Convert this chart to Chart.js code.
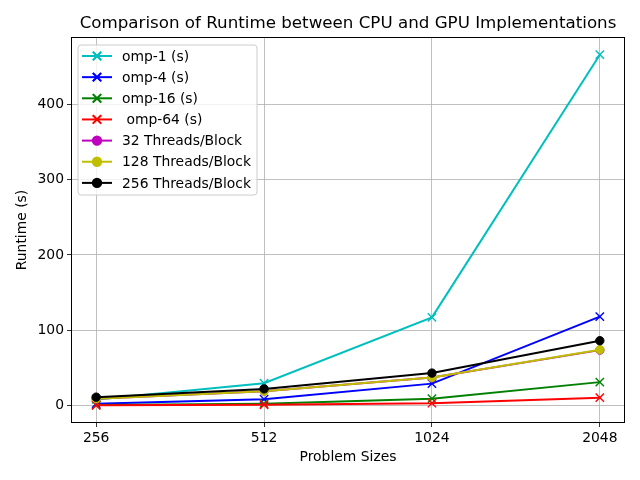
<!DOCTYPE html>
<html>
<head>
<meta charset="utf-8">
<script src="https://cdn.jsdelivr.net/npm/chart.js@4"></script>
<style>
  html, body { margin: 0; padding: 0; background: #fff; }
  #wrap { width: 640px; height: 480px; }
</style>
</head>
<body>
<div id="wrap"><canvas id="runtimeChart" width="640" height="480"></canvas></div>
<script>
// data
const problemSizes = ['256', '512', '1024', '2048'];
const omp1 = [8, 29.5, 117, 466];
const omp4 = [2.4, 8.2, 29, 118];
const omp16 = [0.6, 2.4, 9, 31];
const omp64 = [0.3, 1, 3, 10.4];
const threads32 = [9, 19, 37, 73.5];
const threads128 = [9, 19, 37, 74];
const threads256 = [11, 22, 43, 86];
const yTicks = [0, 100, 200, 300, 400];

const seriesNames = ['omp-1 (s)', 'omp-4 (s)', 'omp-16 (s)', ' omp-64 (s)',
  '32 Threads/Block', '128 Threads/Block', '256 Threads/Block'];
const seriesValues = [omp1, omp4, omp16, omp64, threads32, threads128, threads256];
const seriesColors = ['#00bfbf', '#0000ff', '#008000', '#ff0000', '#bf00bf', '#bfbf00', '#000000'];
const seriesMarkers = ['x', 'x', 'x', 'x', 'o', 'o', 'o'];

const FONT = "'DejaVu Sans', sans-serif";

const datasets = seriesNames.map((name, i) => ({
  label: name,
  data: seriesValues[i].map((v, j) => ({ x: j, y: v })),
  borderColor: seriesColors[i],
  backgroundColor: seriesColors[i],
  borderWidth: 2,
  pointStyle: seriesMarkers[i] === 'x' ? 'crossRot' : 'circle',
  pointRadius: seriesMarkers[i] === 'x' ? 5.9 : 4.2,
  pointBorderWidth: seriesMarkers[i] === 'x' ? 1.4 : 1,
  tension: 0,
  fill: false,
  order: seriesNames.length - i
}));

// matplotlib-like frame, title, axis labels and in-plot legend
const decorations = {
  id: 'decorations',
  afterDraw(chart) {
    const ctx = chart.ctx;
    const a = chart.chartArea;
    ctx.save();
    ctx.strokeStyle = '#000';
    ctx.lineWidth = 1;
    ctx.strokeRect(Math.round(a.left) + 0.5, Math.round(a.top) + 0.5,
      Math.round(a.right - a.left) - 1, Math.round(a.bottom - a.top) - 1);

    ctx.fillStyle = '#000';
    ctx.textAlign = 'center';
    ctx.textBaseline = 'middle';
    ctx.font = '16.7px ' + FONT;
    ctx.fillText('Comparison of Runtime between CPU and GPU Implementations', (a.left + a.right) / 2, 23.5);
    ctx.font = '13.9px ' + FONT;
    ctx.fillText('Problem Sizes', (a.left + a.right) / 2, 457);
    ctx.save();
    ctx.translate(22, (a.top + a.bottom) / 2);
    ctx.rotate(-Math.PI / 2);
    ctx.fillText('Runtime (s)', 0, 0);
    ctx.restore();

    // legend box
    const bx = 78, by = 45, bw = 179, bh = 150, r = 3;
    ctx.beginPath();
    ctx.moveTo(bx + r, by);
    ctx.arcTo(bx + bw, by, bx + bw, by + bh, r);
    ctx.arcTo(bx + bw, by + bh, bx, by + bh, r);
    ctx.arcTo(bx, by + bh, bx, by, r);
    ctx.arcTo(bx, by, bx + bw, by, r);
    ctx.closePath();
    ctx.fillStyle = 'rgba(255,255,255,0.8)';
    ctx.fill();
    ctx.strokeStyle = '#cccccc';
    ctx.lineWidth = 1;
    ctx.stroke();

    ctx.textAlign = 'left';
    ctx.font = '13.9px ' + FONT;
    chart.data.datasets.forEach((ds, i) => {
      const y = 56 + i * 21.15;
      ctx.strokeStyle = ds.borderColor;
      ctx.lineWidth = 2;
      ctx.beginPath();
      ctx.moveTo(82, y);
      ctx.lineTo(112, y);
      ctx.stroke();
      ctx.fillStyle = ds.backgroundColor;
      ctx.strokeStyle = ds.borderColor;
      Chart.helpers.drawPoint(ctx, {
        pointStyle: ds.pointStyle,
        radius: ds.pointRadius,
        borderWidth: ds.pointBorderWidth,
        rotation: 0
      }, 97, y);
      if (ds.pointStyle === 'circle') {
        ctx.beginPath();
        ctx.arc(97, y, ds.pointRadius, 0, Math.PI * 2);
        ctx.fill();
      } else {
        ctx.lineWidth = ds.pointBorderWidth;
        ctx.stroke();
      }
      ctx.fillStyle = '#000';
      ctx.fillText(ds.label, 122, y + 1);
    });
    ctx.restore();
  }
};

const ctx = document.getElementById('runtimeChart').getContext('2d');
new Chart(ctx, {
  type: 'line',
  data: { datasets: datasets },
  options: {
    responsive: false,
    animation: false,
    events: [],
    layout: { padding: { top: 37, right: 15, left: 0, bottom: 0 } },
    plugins: {
      legend: { display: false },
      title: { display: false },
      tooltip: { enabled: false }
    },
    scales: {
      x: {
        type: 'linear',
        min: -0.15,
        max: 3.15,
        afterBuildTicks: (scale) => { scale.ticks = problemSizes.map((s, i) => ({ value: i })); },
        afterFit: (scale) => { scale.height = 57; },
        ticks: {
          color: '#000',
          font: { family: FONT, size: 13.9 },
          padding: 3,
          maxRotation: 0,
          callback: (v) => problemSizes[v]
        },
        grid: { color: '#b0b0b0', lineWidth: 0.8, tickColor: '#000', tickLength: 4 },
        border: { display: false }
      },
      y: {
        type: 'linear',
        min: -23.3,
        max: 489.5,
        afterBuildTicks: (scale) => { scale.ticks = yTicks.map(v => ({ value: v })); },
        afterFit: (scale) => { scale.width = 71; },
        ticks: {
          color: '#000',
          font: { family: FONT, size: 13.9 },
          padding: 3
        },
        grid: { color: '#b0b0b0', lineWidth: 0.8, tickColor: '#000', tickLength: 4 },
        border: { display: false }
      }
    }
  },
  plugins: [decorations]
});
</script>
</body>
</html>
